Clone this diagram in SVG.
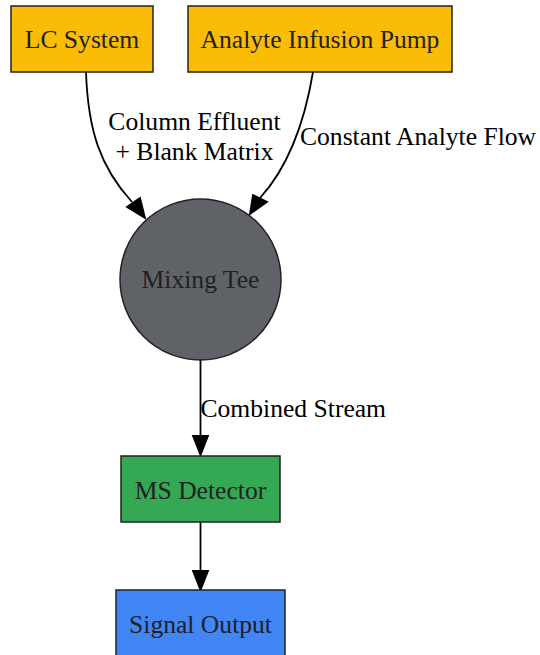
<svg xmlns="http://www.w3.org/2000/svg" width="540" height="655" viewBox="0 0 540 655">
<style>
text{font-family:"Liberation Serif","Times New Roman",serif;font-size:25.6px}
.nt{fill:#202124;text-anchor:middle}
.el{fill:#000}
.box{stroke:#222;stroke-width:1.5}
.edge{fill:none;stroke:#000;stroke-width:1.8}
.ah{fill:#000;stroke:#000;stroke-width:1.8}
</style>
<rect width="540" height="655" fill="#fff"/>
<g id="connectors">
<path class="edge" d="M86,72 C88,130 100,167 132,202"/>
<polygon class="ah" points="145,218 127,207 140,198"/>
<path class="edge" d="M313,72 C305,120 290,165 260,198"/>
<polygon class="ah" points="250,214 253,195 267,202"/>
<path class="edge" d="M200.5,360 L200.5,436"/>
<polygon class="ah" points="200.5,455 193,436 208,436"/>
<path class="edge" d="M200.5,522 L200.5,571"/>
<polygon class="ah" points="200.5,590 193,571 208,571"/>
<text class="el" x="194.5" y="130" text-anchor="middle">Column Effluent</text>
<text class="el" x="194.5" y="160" text-anchor="middle">+ Blank Matrix</text>
<text class="el" x="300" y="145">Constant Analyte Flow</text>
<text class="el" x="200.5" y="417">Combined Stream</text>
</g>
<g id="lc">
<rect class="box" x="11" y="6" width="142" height="66" fill="#FBBC05"/>
<text class="nt" x="82" y="48">LC System</text>
</g>
<g id="pump">
<rect class="box" x="188" y="6" width="264" height="66" fill="#FBBC05"/>
<text class="nt" x="320" y="48">Analyte Infusion Pump</text>
</g>
<g id="tee">
<circle class="box" cx="200.5" cy="279.5" r="80.5" fill="#5F6368"/>
<text class="nt" x="200.5" y="288">Mixing Tee</text>
</g>
<g id="ms">
<rect class="box" x="121" y="456" width="159" height="66" fill="#34A853"/>
<text class="nt" x="200.5" y="499">MS Detector</text>
</g>
<g id="signal">
<rect class="box" x="116" y="590" width="169" height="66" fill="#4285F4"/>
<text class="nt" x="200.5" y="633">Signal Output</text>
</g>
</svg>
